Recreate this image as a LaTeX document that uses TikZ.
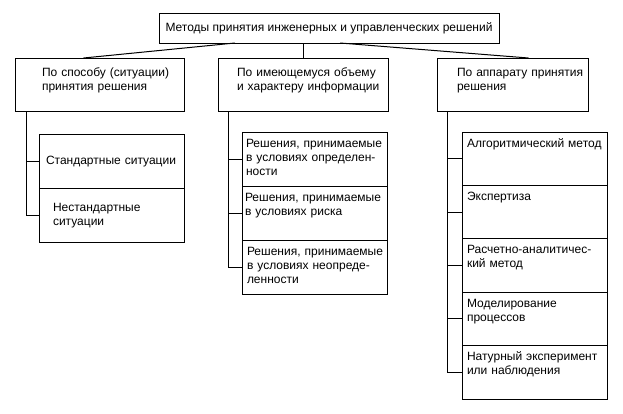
\documentclass[tikz,border=0pt]{standalone}
\usepackage{fontspec}
\setmainfont{Liberation Sans}
\usetikzlibrary{positioning}

\tikzset{
  box/.style={draw, line width=1pt, outer sep=0pt, inner sep=0pt,
    anchor=north west, align=left},
  pad/.style={execute at begin node={\leftskip=#1}},
  group/.style={box, text width=#1, minimum height=53pt,
    text height=18pt, text depth=35pt},
  item/.style={box, text width=145pt, minimum height=54pt,
    text height=15pt, text depth=39pt},
  tallitem/.style={item, minimum height=53.4pt, text depth=38.4pt}
}

\begin{document}
\begin{tikzpicture}[x=1pt,y=1pt,line width=1pt,
    every node/.append style={font=\fontsize{12}{14}\selectfont}]

  \useasboundingbox (0,0) rectangle (623,-413);

  % root
  \node[draw, line width=1pt, outer sep=0pt, minimum width=340pt,
        minimum height=30pt] (top) at (329,-28)
        {Методы принятия инженерных и управленческих решений};

  % first level
  \node[group=169pt, pad=27pt] (way)  at (15,-58)  {По способу (ситуации)\\принятия решения};
  \node[group=170pt, pad=19pt] (info) at (218,-58) {По имеющемуся объему\\и характеру информации};
  \node[group=151pt, pad=20pt] (tool) at (437,-58) {По аппарату принятия\\решения};

  % by situation
  \node[item, pad=7pt, text height=30pt, text depth=24pt] (way1) at (39,-134) {Стандартные ситуации};
  \node[item, pad=14pt, text height=23pt, text depth=31pt] (way2) [below=0pt of way1] {Нестандартные\\ситуации};

  % by information
  \node[item, pad=4pt] (info1) at (242,-132) {Решения, принимаемые\\в условиях определен-\\ности};
  \node[item, pad=3pt] (info2) [below=0pt of info1] {Решения, принимаемые\\в условиях риска};
  \node[item, pad=5pt] (info3) [below=0pt of info2] {Решения, принимаемые\\в условиях неопреде-\\ленности};

  % by tools
  \node[tallitem, pad=5pt] (tool1) at (462,-132) {Алгоритмический метод};
  \node[tallitem, pad=5pt] (tool2) [below=0pt of tool1] {Экспертиза};
  \node[tallitem, pad=5pt] (tool3) [below=0pt of tool2] {Расчетно-аналитичес-\\кий метод};
  \node[tallitem, pad=5pt] (tool4) [below=0pt of tool3] {Моделирование\\процессов};
  \node[tallitem, pad=5pt] (tool5) [below=0pt of tool4] {Натурный эксперимент\\или наблюдения};

  % connectors
  \coordinate (fork) at (top.south -| info.north);
  \draw (fork) -- (info.north);
  \draw ([xshift=-94pt]top.south) -- ([xshift=-16pt]way.north);
  \draw ([xshift=11pt]top.south) -- ([xshift=16pt]tool.north);

  \foreach \n in {1,2}
    \draw ([xshift=11pt]way.south west) |- (way\n.west);
  \foreach \n in {1,2,3}
    \draw ([xshift=10pt]info.south west) |- (info\n.west);
  \foreach \n in {1,...,5}
    \draw ([xshift=10pt]tool.south west) |- (tool\n.west);

\end{tikzpicture}
\end{document}
